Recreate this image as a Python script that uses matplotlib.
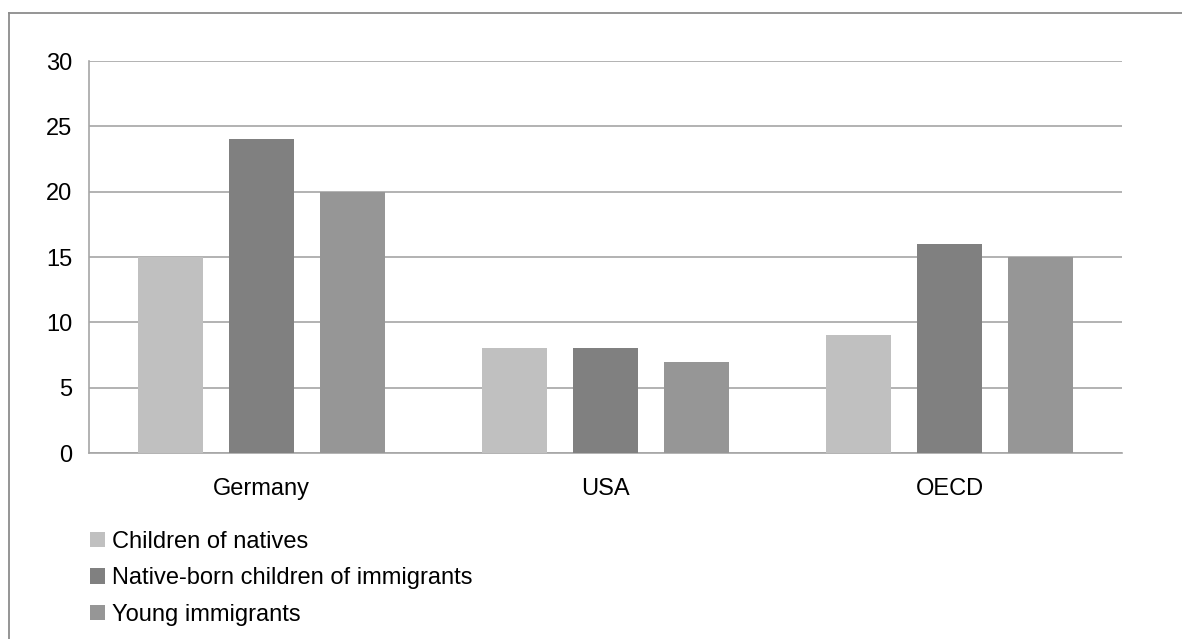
import matplotlib
matplotlib.use("Agg")
import matplotlib.pyplot as plt
import numpy as np
from matplotlib.lines import Line2D
from matplotlib.patches import Patch

plt.rcParams['font.family'] = ['Liberation Sans', 'DejaVu Sans']

categories = ["Germany", "USA", "OECD"]
series_names = ["Children of natives", "Native-born children of immigrants", "Young immigrants"]
children_of_natives = [15, 8, 9]
native_born_children_of_immigrants = [24, 8, 16]
young_immigrants = [20, 7, 15]
y_ticks = [0, 5, 10, 15, 20, 25, 30]

colors = ["#C0C0C0", "#808080", "#969696"]
series = [children_of_natives, native_born_children_of_immigrants, young_immigrants]

W, H = 1182, 639
FS = 17
fig = plt.figure(figsize=(W / 100, H / 100), dpi=100)
ax = fig.add_axes([89 / W, 1 - 453 / H, (1122 - 89) / W, (453 - 61) / H])

x = np.arange(len(categories))
offset = 0.264
width = 0.189
for i, (vals, col) in enumerate(zip(series, colors)):
    ax.bar(x + (i - 1) * offset, vals, width=width, color=col, zorder=3, label=series_names[i])

ax.set_xlim(-0.5, len(categories) - 0.5)
ax.set_ylim(0, 30)
ax.set_yticks(y_ticks)
ax.set_yticklabels([str(t) for t in y_ticks], fontsize=FS)
ax.set_xticks(x)
ax.set_xticklabels(categories, fontsize=FS)
ax.tick_params(axis='both', length=0)
ax.tick_params(axis='y', pad=12)
ax.tick_params(axis='x', pad=18)
ax.yaxis.grid(True, color="#A6A6A6", linewidth=1.2, zorder=0)
for s in ["top", "right"]:
    ax.spines[s].set_visible(False)
ax.spines["left"].set_color("#A6A6A6")
ax.spines["bottom"].set_color("#A6A6A6")
ax.spines["left"].set_linewidth(1.2)
ax.spines["bottom"].set_linewidth(1.2)

handles = [Patch(facecolor=c, edgecolor='none') for c in colors]
fig.legend(handles, series_names, loc="upper left",
           bbox_to_anchor=(90 / W, 1 - 531 / H), frameon=False, fontsize=FS,
           handlelength=0.635, handleheight=0.635, handletextpad=0.3,
           labelspacing=0.61, borderaxespad=0, borderpad=0)

# outer chart frame
fig.add_artist(Line2D([9 / W, 1.0], [1 - 13 / H, 1 - 13 / H], color="#8C8C8C", linewidth=1.3))
fig.add_artist(Line2D([9 / W, 9 / W], [1 - 13 / H, 0.0], color="#8C8C8C", linewidth=1.3))

fig.savefig("out.png", dpi=100, facecolor="white")
